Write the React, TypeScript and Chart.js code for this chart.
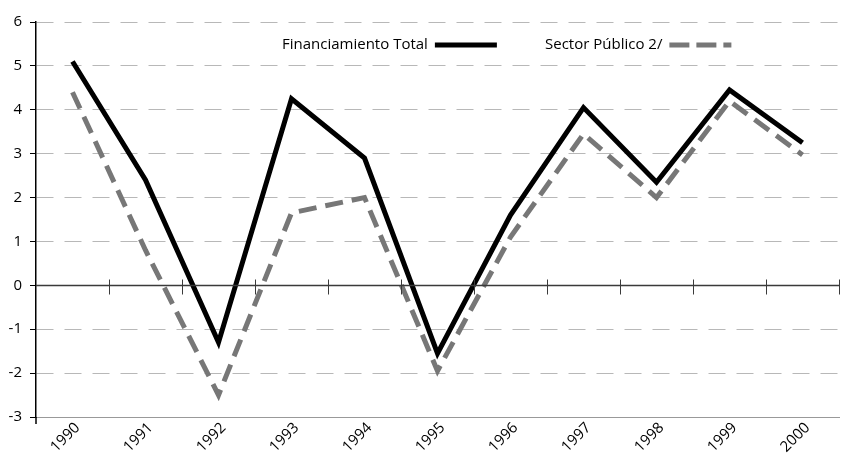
import React, { useEffect, useRef } from "react";
import { Chart, registerables } from "chart.js";

Chart.register(...registerables);

const categories = ["1990", "1991", "1992", "1993", "1994", "1995", "1996", "1997", "1998", "1999", "2000"];
const financiamientoTotal = [5.1, 2.4, -1.3, 4.25, 2.9, -1.55, 1.6, 4.05, 2.35, 4.45, 3.25];
const sectorPublico = [4.4, 0.8, -2.5, 1.65, 2.0, -1.95, 1.1, 3.45, 2.0, 4.2, 2.97];
const yTicks = [6, 5, 4, 3, 2, 1, 0, -1, -2, -3];
const seriesNames = ["Financiamiento Total", "Sector Público 2/"];

const FONT = "'Open Sans', 'Noto Sans', sans-serif";

const overlayPlugin = {
  id: "overlay",
  afterDraw(chart: any) {
    const { ctx, chartArea, scales } = chart;
    const xs = scales.x;
    const ys = scales.y;
    ctx.save();
    // zero line with category boundary ticks
    const y0 = Math.round(ys.getPixelForValue(0)) + 0.5;
    ctx.strokeStyle = "#3a3a3a";
    ctx.lineWidth = 1.6;
    ctx.beginPath();
    ctx.moveTo(chartArea.left, y0);
    ctx.lineTo(chartArea.right, y0);
    ctx.stroke();
    ctx.lineWidth = 1;
    const n = categories.length;
    for (let i = 0; i < n; i++) {
      const xa = xs.getPixelForValue(i);
      const xb = i < n - 1 ? xs.getPixelForValue(i + 1) : xa + (xa - xs.getPixelForValue(i - 1));
      const bx = Math.round((xa + xb) / 2) + 0.5;
      ctx.beginPath();
      ctx.moveTo(bx, y0 - 6);
      ctx.lineTo(bx, y0 + 9);
      ctx.stroke();
    }
    // y axis extension below bottom
    ctx.strokeStyle = "#000";
    ctx.lineWidth = 1.5;
    ctx.beginPath();
    ctx.moveTo(chartArea.left, chartArea.bottom);
    ctx.lineTo(chartArea.left, chartArea.bottom + 7);
    ctx.stroke();

    // legend
    ctx.font = `15px ${FONT}`;
    ctx.textBaseline = "middle";
    ctx.fillStyle = "#000";
    const ly = chartArea.top + 23;
    const items = [
      { x: chartArea.left + 246, color: "#000", dash: [] as number[] },
      { x: chartArea.left + 509, color: "#777", dash: [20, 7] },
    ];
    items.forEach((it, i) => {
      const label = seriesNames[i];
      ctx.fillText(label, it.x, ly);
      const w = ctx.measureText(label).width;
      ctx.strokeStyle = it.color;
      ctx.lineWidth = 5;
      ctx.setLineDash(it.dash);
      ctx.beginPath();
      ctx.moveTo(it.x + w + 7, ly);
      ctx.lineTo(it.x + w + 69, ly);
      ctx.stroke();
      ctx.setLineDash([]);
    });
    ctx.restore();
  },
};

export default function App() {
  const ref = useRef<HTMLCanvasElement | null>(null);
  useEffect(() => {
    if (!ref.current) return;
    const chart = new Chart(ref.current, {
      type: "line",
      data: {
        labels: categories,
        datasets: [
          {
            label: seriesNames[0],
            data: financiamientoTotal,
            borderColor: "#000",
            borderWidth: 5,
            pointRadius: 0,
            tension: 0,
            borderJoinStyle: "miter",
            borderCapStyle: "butt",
          },
          {
            label: seriesNames[1],
            data: sectorPublico,
            borderColor: "#777",
            borderWidth: 5,
            borderDash: [18, 9],
            pointRadius: 0,
            tension: 0,
            borderJoinStyle: "miter",
            borderCapStyle: "butt",
          },
        ],
      },
      options: {
        animation: false,
        responsive: true,
        maintainAspectRatio: false,
        layout: { padding: { top: 22, right: 11, left: 0, bottom: 0 } },
        plugins: { legend: { display: false }, tooltip: { enabled: false } },
        scales: {
          x: {
            offset: true,
            grid: { display: false, drawTicks: false, tickLength: 0 },
            border: { display: true, color: "#999", width: 1 },
            ticks: {
              minRotation: 45,
              maxRotation: 45,
              padding: 2,
              labelOffset: 5,
              color: "#000",
              font: { family: FONT, size: 15 },
            },
            afterFit: (s: any) => {
              s.height = 39;
            },
          },
          y: {
            min: -3,
            max: 6,
            afterBuildTicks: (s: any) => {
              s.ticks = yTicks.map((v) => ({ value: v }));
            },
            grid: {
              color: (c: any) => (c.tick && c.tick.value === 0 ? "rgba(0,0,0,0)" : "#b8b8b8"),
              lineWidth: 1,
              tickLength: 6,
              tickColor: "#000",
              tickWidth: 1,
              tickBorderDash: [],
            },
            border: { display: true, color: "#000", width: 1.5, dash: [17, 11] },
            ticks: {
              padding: 8,
              color: "#000",
              font: { family: FONT, size: 15 },
            },
            afterFit: (s: any) => {
              s.width = 36;
            },
          },
        },
      },
      plugins: [overlayPlugin],
    });
    return () => chart.destroy();
  }, []);
  return (
    <div style={{ position: "absolute", left: 0, top: 0, width: 850, height: 456 }}>
      <canvas ref={ref} />
    </div>
  );
}
